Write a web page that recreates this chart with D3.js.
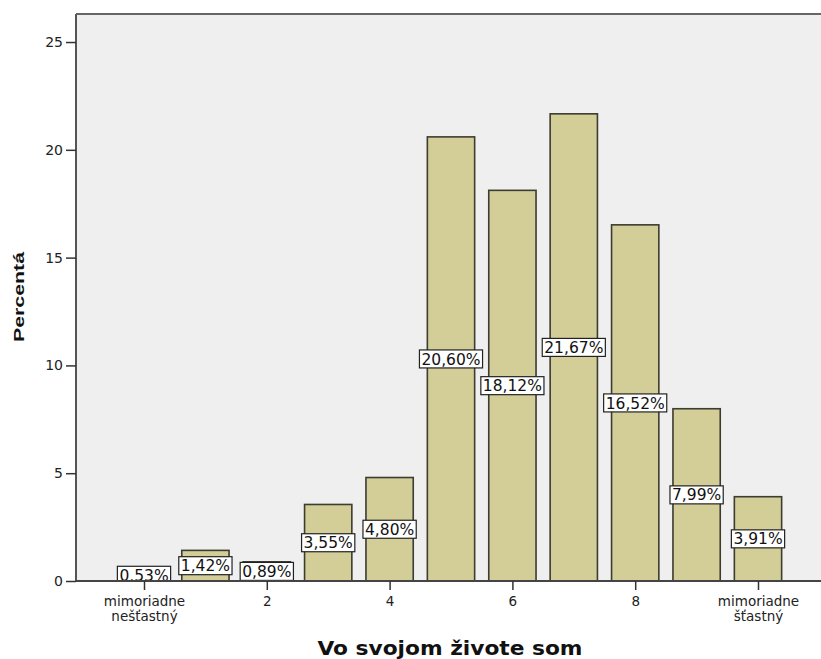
<!DOCTYPE html>
<html>
<head>
<meta charset="utf-8">
<script src="https://cdn.jsdelivr.net/npm/d3@7"></script>
<style>
  body { margin: 0; background: #fff; }
  svg { display: block; }
</style>
</head>
<body>
<div id="chart"></div>
<script>
const categories = ["0", "1", "2", "3", "4", "5", "6", "7", "8", "9", "10"];
const percentages = [0.53, 1.42, 0.89, 3.55, 4.80, 20.60, 18.12, 21.67, 16.52, 7.99, 3.91];
const xTickValues = ["0", "2", "4", "6", "8", "10"];
const xTickLabels = [["mimoriadne", "nešťastný"], ["2"], ["4"], ["6"], ["8"], ["mimoriadne", "šťastný"]];
const yTickValues = [0, 5, 10, 15, 20, 25];
const yTitle = "Percentá";
const xTitle = "Vo svojom živote som";

const W = 821, H = 659;
const plot = { left: 76, top: 14, right: 821, bottom: 581 };

const svg = d3.select("#chart").append("svg")
    .attr("width", W)
    .attr("height", H);

const xScale = d3.scalePoint()
    .domain(categories)
    .range([144, 758]);
const barWidth = xScale.step() * 0.77;

const yScale = d3.scaleLinear()
    .domain([0, 26.3])
    .range([plot.bottom, plot.top]);

// plot background
svg.append("rect")
    .attr("x", plot.left)
    .attr("y", plot.top)
    .attr("width", plot.right - plot.left)
    .attr("height", plot.bottom - plot.top)
    .attr("fill", "#efefef");

svg.append("clipPath")
    .attr("id", "plotClip")
    .append("rect")
    .attr("x", plot.left)
    .attr("y", plot.top)
    .attr("width", plot.right - plot.left)
    .attr("height", plot.bottom - plot.top);

// bars
svg.append("g")
    .selectAll("rect")
    .data(percentages)
    .join("rect")
    .attr("x", (d, i) => xScale(categories[i]) - barWidth / 2)
    .attr("y", d => yScale(d))
    .attr("width", barWidth)
    .attr("height", d => yScale(0) - yScale(d))
    .attr("fill", "#d3ce97")
    .attr("stroke", "#3c3c30")
    .attr("stroke-width", 1.6);

// value labels
const labels = svg.append("g")
    .attr("clip-path", "url(#plotClip)")
    .selectAll("g")
    .data(percentages)
    .join("g")
    .attr("transform", (d, i) => `translate(${xScale(categories[i])}, ${(yScale(0) + yScale(d)) / 2})`);

const labelBoxes = labels.append("rect")
    .attr("fill", "#fff")
    .attr("stroke", "#222")
    .attr("stroke-width", 1.2);

const labelTexts = labels.append("text")
    .attr("text-anchor", "middle")
    .attr("dy", "0.36em")
    .attr("font-family", "DejaVu Sans, sans-serif")
    .attr("font-size", "15.5px")
    .attr("fill", "#111")
    .text(d => d.toFixed(2).replace(".", ",") + "%");

labelTexts.each(function (d, i) {
    const w = this.getComputedTextLength();
    d3.select(labelBoxes.nodes()[i])
        .attr("x", -w / 2 - 2)
        .attr("y", -9)
        .attr("width", w + 4)
        .attr("height", 18);
});

// frame lines
svg.append("line")
    .attr("x1", plot.left).attr("x2", plot.right)
    .attr("y1", plot.top).attr("y2", plot.top)
    .attr("stroke", "#666").attr("stroke-width", 2);

// y axis
const yAxis = svg.append("g")
    .attr("transform", `translate(${plot.left}, 0)`)
    .call(d3.axisLeft(yScale).tickValues(yTickValues).tickSize(10).tickPadding(3).tickSizeOuter(0));
yAxis.select(".domain")
    .attr("d", `M0,${plot.top}V${plot.bottom}`)
    .attr("stroke", "#555")
    .attr("stroke-width", 2);
yAxis.selectAll(".tick line").attr("stroke", "#333").attr("stroke-width", 1.5);
yAxis.selectAll(".tick text")
    .attr("font-family", "DejaVu Sans, sans-serif")
    .attr("font-size", "14px")
    .attr("fill", "#222");

// x axis
const xAxis = svg.append("g")
    .attr("transform", `translate(0, ${plot.bottom})`)
    .call(d3.axisBottom(xScale).tickValues(xTickValues).tickSize(9).tickSizeOuter(0).tickFormat(""));
xAxis.select(".domain")
    .attr("d", `M${plot.left},0H${plot.right}`)
    .attr("stroke", "#444")
    .attr("stroke-width", 2);
xAxis.selectAll(".tick line").attr("stroke", "#333").attr("stroke-width", 1.5);
xAxis.selectAll(".tick text").remove();
xAxis.selectAll(".tick").each(function (d, i) {
    const tick = d3.select(this);
    xTickLabels[i].forEach((line, k) => {
        tick.append("text")
            .attr("text-anchor", "middle")
            .attr("font-family", "DejaVu Sans, sans-serif")
            .attr("font-size", "13.5px")
            .attr("fill", "#222")
            .attr("y", 25 + k * 15)
            .text(line);
    });
});

// axis titles
svg.append("text")
    .attr("transform", "translate(24, 297) rotate(-90)")
    .attr("text-anchor", "middle")
    .attr("font-family", "Liberation Sans, Arial, sans-serif")
    .attr("font-weight", "bold")
    .attr("font-size", "15px")
    .attr("textLength", 90)
    .attr("lengthAdjust", "spacingAndGlyphs")
    .attr("fill", "#111")
    .text(yTitle);

svg.append("text")
    .attr("x", 450)
    .attr("y", 655)
    .attr("text-anchor", "middle")
    .attr("font-family", "DejaVu Sans, sans-serif")
    .attr("font-weight", "bold")
    .attr("font-size", "19.5px")
    .attr("textLength", 265)
    .attr("lengthAdjust", "spacingAndGlyphs")
    .attr("fill", "#111")
    .text(xTitle);
</script>
</body>
</html>
